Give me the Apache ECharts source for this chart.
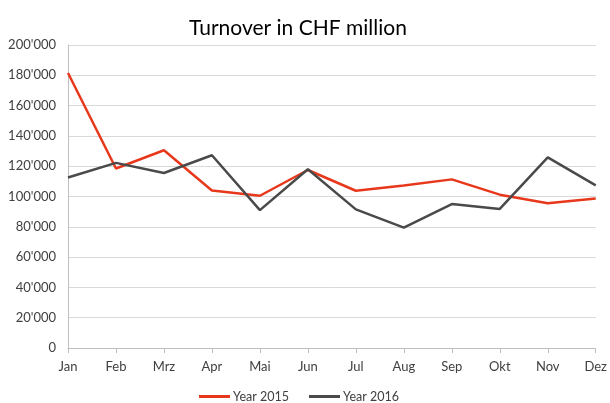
<!DOCTYPE html>
<html><head><meta charset="utf-8">
<script src="https://cdn.jsdelivr.net/npm/echarts@6/dist/echarts.min.js"></script>
<style>html,body{margin:0;padding:0;background:#fff}#c{width:610px;height:403px}</style>
</head><body><div id="c"></div>
<script>
const categories = ['Jan','Feb','Mrz','Apr','Mai','Jun','Jul','Aug','Sep','Okt','Nov','Dez'];
const year2015 = [181500,118500,130500,104000,100500,117500,103800,107200,111300,101200,95500,98700];
const year2016 = [112500,122200,115500,127200,91000,118000,91500,79500,95000,91800,125800,107300];
const yTicks = {min:0, max:200000, interval:20000};
const fmt = v => v === 0 ? '0' : String(v).replace(/\B(?=(\d{3})+(?!\d))/g, "'");
const font = 'Lato, "Open Sans", sans-serif';
const chart = echarts.init(document.getElementById('c'));
chart.setOption({
  animation:false,
  title:{text:'Turnover in CHF million', left:184, top:13, textStyle:{fontFamily:font, fontSize:21, fontWeight:'normal', color:'#000'}},
  grid:{left:68, right:11, top:45, bottom:55},
  legend:{top:385, left:194, itemWidth:31, itemHeight:3, itemGap:20, icon:'rect',
    textStyle:{fontFamily:font, fontSize:12.5, color:'#404040', padding:[0,0,0,-2]}},
  xAxis:{type:'category', data:categories, boundaryGap:false,
    axisLine:{lineStyle:{color:'#bfbfbf'}},
    axisTick:{alignWithLabel:true, length:5, lineStyle:{color:'#bfbfbf'}},
    axisLabel:{fontFamily:font, fontSize:13, color:'#404040', margin:12}},
  yAxis:{type:'value', min:yTicks.min, max:yTicks.max, interval:yTicks.interval,
    axisLine:{show:true, lineStyle:{color:'#bfbfbf'}},
    axisTick:{show:false},
    splitLine:{lineStyle:{color:'#d9d9d9'}},
    axisLabel:{fontFamily:font, fontSize:13, color:'#404040', margin:12, formatter:fmt}},
  series:[
    {name:'Year 2015', type:'line', data:year2015, symbol:'none', lineStyle:{width:2.5, color:'#e8381c'}, itemStyle:{color:'#e8381c'}},
    {name:'Year 2016', type:'line', data:year2016, symbol:'none', lineStyle:{width:2.5, color:'#4a4a4a'}, itemStyle:{color:'#4a4a4a'}}
  ]
});
</script></body></html>
